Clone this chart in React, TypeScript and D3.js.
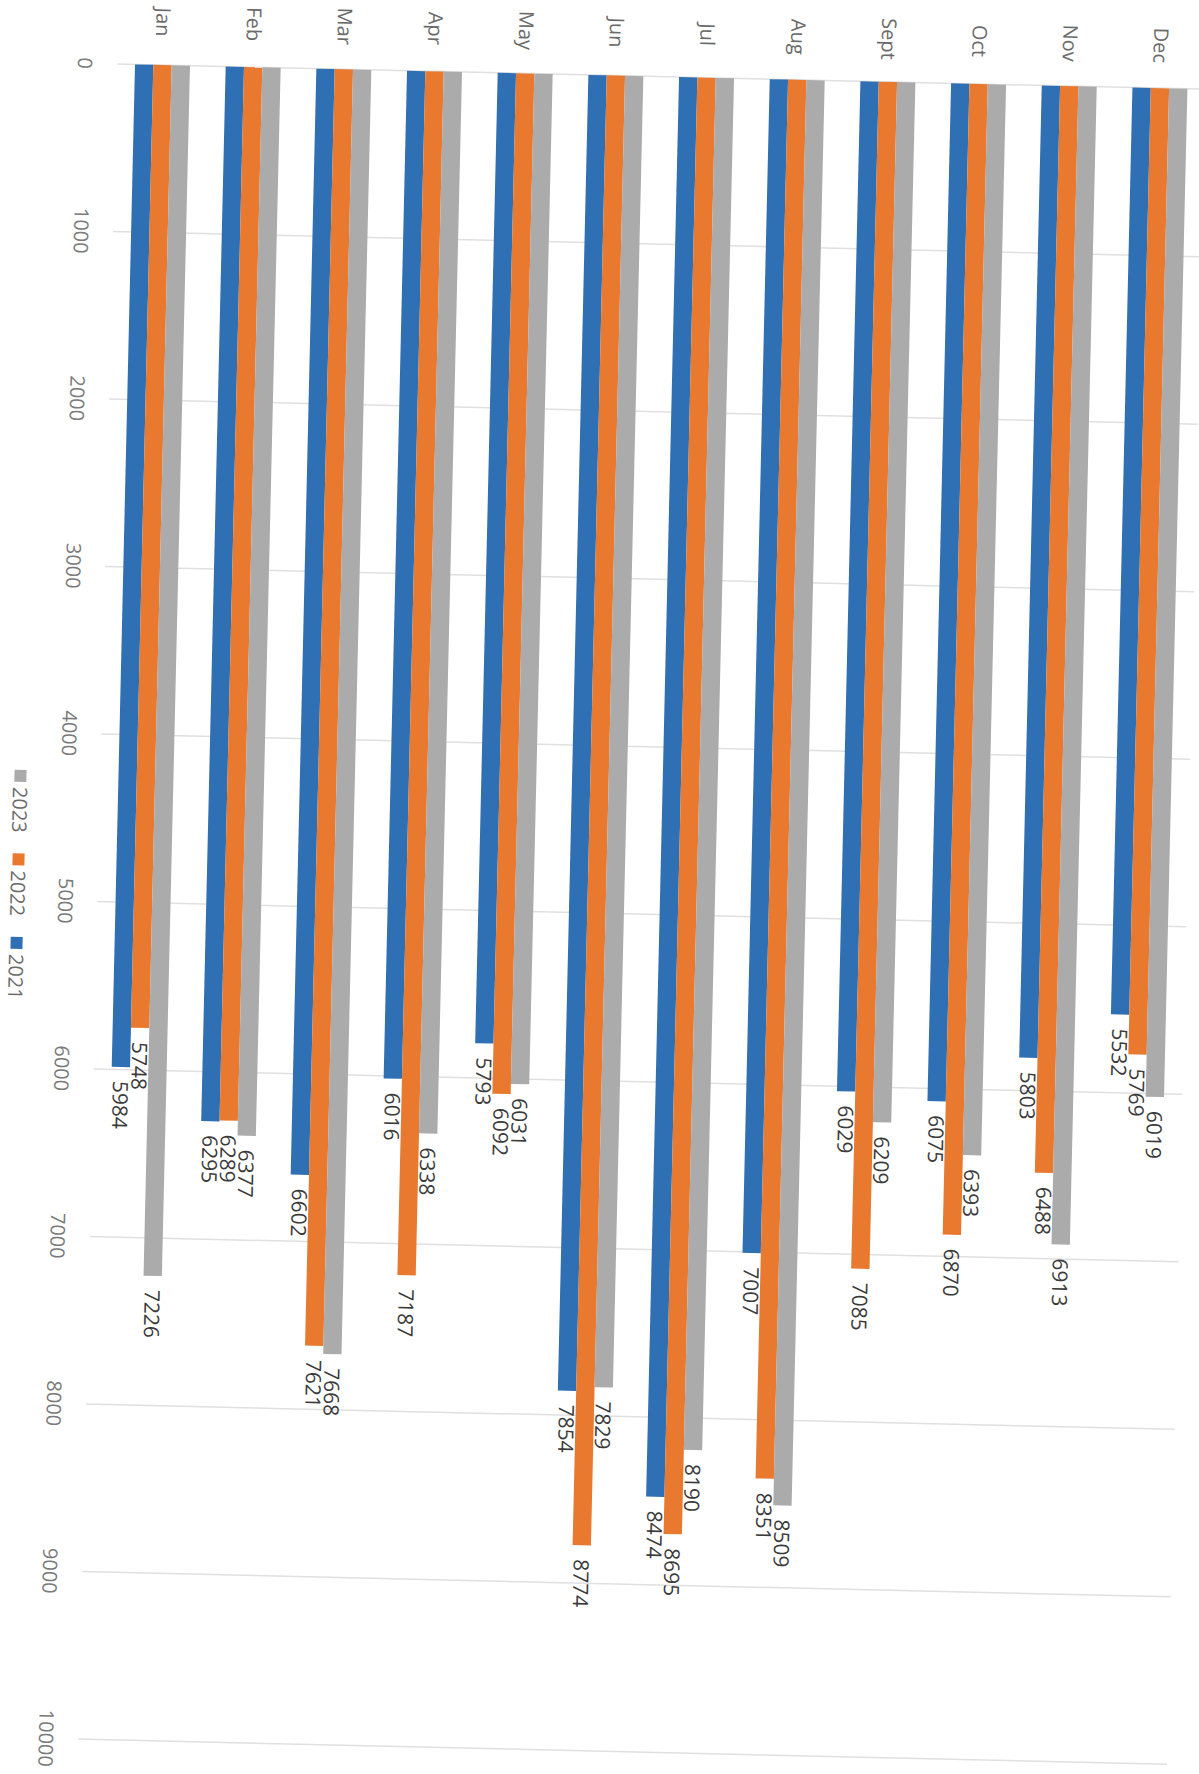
import React from "react";
import * as d3 from "d3";

const months = ["Jan", "Feb", "Mar", "Apr", "May", "Jun", "Jul", "Aug", "Sept", "Oct", "Nov", "Dec"];
const years = ["2021", "2022", "2023"];
const values2021 = [5984, 6295, 6602, 6016, 5793, 7854, 8474, 7007, 6029, 6075, 5803, 5532];
const values2022 = [5748, 6289, 7621, 7187, 6092, 8774, 8695, 8351, 7085, 6870, 6488, 5769];
const values2023 = [7226, 6377, 7668, 6338, 6031, 7829, 8190, 8509, 6209, 6393, 6913, 6019];
const tickValues = [0, 1000, 2000, 3000, 4000, 5000, 6000, 7000, 8000, 9000, 10000];
const legendOrder = ["2023", "2022", "2021"];

const seriesByYear: Record<string, number[]> = {
  "2021": values2021,
  "2022": values2022,
  "2023": values2023,
};

const colors: Record<string, string> = {
  "2021": "#2f6fb4",
  "2022": "#e8792f",
  "2023": "#ababab",
};

const W = 1199;
const H = 1774;
const FONT = "'Open Sans', 'Liberation Sans', sans-serif";

export default function App() {
  const step = 90.7;
  const groupW = 55;
  const pad = (step - groupW) / step;
  const x0 = d3
    .scaleBand<string>()
    .domain(months)
    .range([18 - (step - groupW) / 2, 18 - (step - groupW) / 2 + step * months.length])
    .paddingInner(pad)
    .paddingOuter(pad / 2);
  const x1 = d3.scaleBand<string>().domain(years).range([0, x0.bandwidth()]).padding(0);
  const y = d3.scaleLinear().domain([0, 10000]).range([0, 1675.5]);

  const gridEnd = 1089;

  return (
    <svg
      width={W}
      height={H}
      style={{ position: "absolute", left: 0, top: 0, background: "#fff" }}
      xmlns="http://www.w3.org/2000/svg"
    >
      <rect x={0} y={0} width={W} height={H} fill="#fff" />
      <g transform="translate(117,64) rotate(1.33)">
        {/* gridlines */}
        {tickValues.map((t) => (
          <line
            key={"g" + t}
            x1={0}
            x2={gridEnd}
            y1={y(t)}
            y2={y(t)}
            stroke="#e0e0e0"
            strokeWidth={1.5}
          />
        ))}
        {/* tick labels */}
        {tickValues.map((t) => (
          <text
            key={"t" + t}
            transform={`translate(-32,${y(t)}) rotate(90)`}
            textAnchor="middle"
            dy="0.36em"
            fontFamily={FONT}
            fontSize={20}
            fill="#7a7a7a"
          >
            {t}
          </text>
        ))}
        {/* category labels */}
        {months.map((m) => (
          <text
            key={"c" + m}
            transform={`translate(${(x0(m) as number) + x0.bandwidth() / 2},-43) rotate(90)`}
            textAnchor="middle"
            dy="0.36em"
            fontFamily={FONT}
            fontSize={20}
            fill="#6a6a6a"
          >
            {m}
          </text>
        ))}
        {/* bars */}
        {months.map((m, i) => (
          <g key={"b" + m} transform={`translate(${x0(m)},0)`}>
            {years.map((yr) => {
              const v = seriesByYear[yr][i];
              return (
                <rect
                  key={yr}
                  x={x1(yr)}
                  y={y(0)}
                  width={x1.bandwidth()}
                  height={y(v) - y(0)}
                  fill={colors[yr]}
                />
              );
            })}
          </g>
        ))}
        {/* data labels */}
        {months.map((m, i) => (
          <g key={"l" + m} transform={`translate(${x0(m)},0)`}>
            {years.map((yr) => {
              const v = seriesByYear[yr][i];
              const cx = (x1(yr) as number) + x1.bandwidth() / 2;
              return (
                <text
                  key={yr}
                  transform={`translate(${cx},${y(v) + 14}) rotate(90)`}
                  textAnchor="start"
                  dy="0.36em"
                  fontFamily={FONT}
                  fontSize={21}
                  fill="#3a3a3a"
                >
                  {v}
                </text>
              );
            })}
          </g>
        ))}
        {/* legend */}
        {legendOrder.map((yr, i) => {
          const v0 = 708 + i * 83.5;
          return (
            <g key={"lg" + yr} transform={`translate(-80,${v0})`}>
              <rect x={-6} y={0} width={12} height={12} fill={colors[yr]} />
              <text
                transform={`translate(0,17) rotate(90)`}
                textAnchor="start"
                dy="0.36em"
                fontFamily={FONT}
                fontSize={20}
                fill="#6a6a6a"
              >
                {yr}
              </text>
            </g>
          );
        })}
      </g>
    </svg>
  );
}
